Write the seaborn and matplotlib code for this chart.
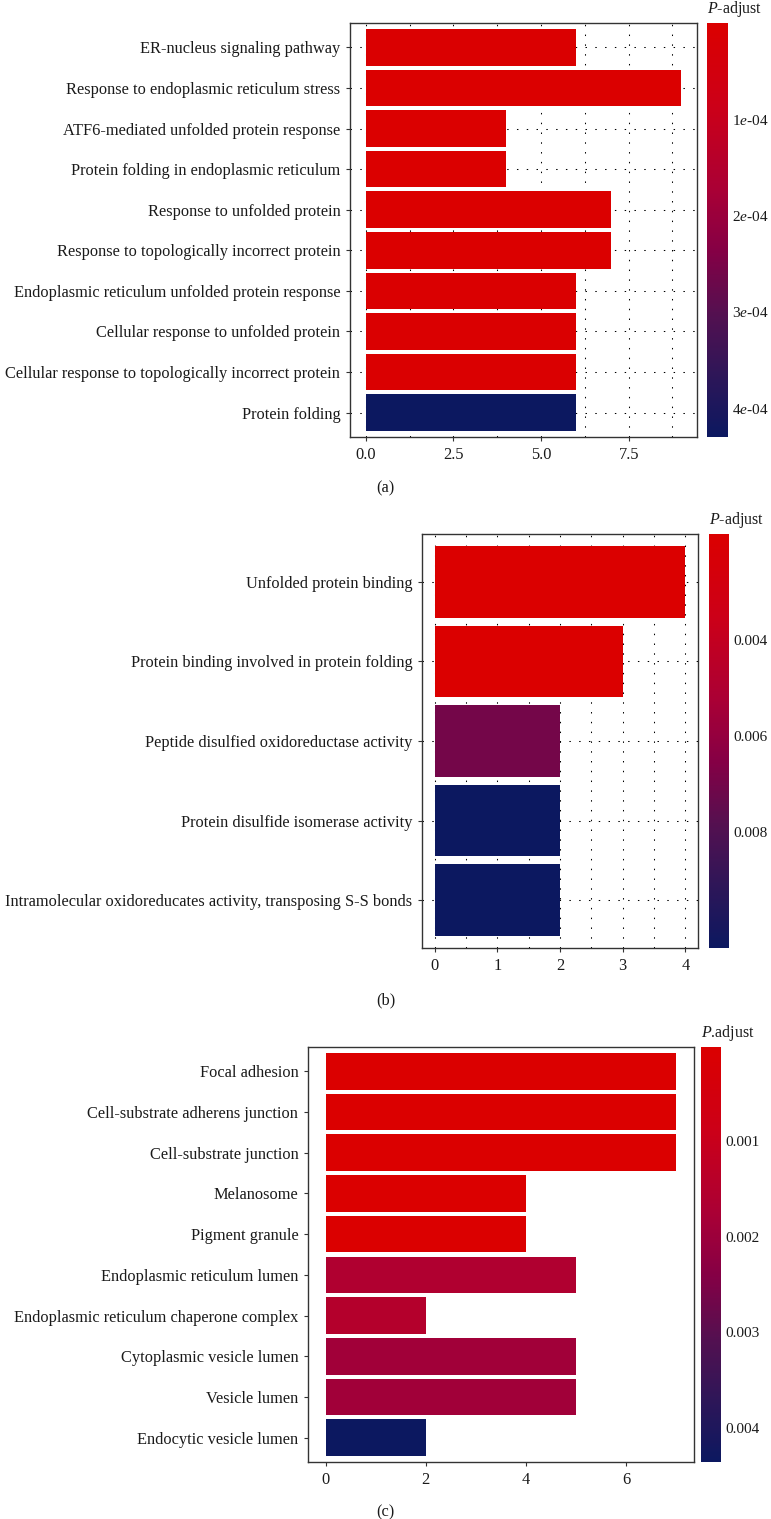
import numpy as np
import pandas as pd
import seaborn as sns
import matplotlib.pyplot as plt
from matplotlib.colors import LinearSegmentedColormap, Normalize
from matplotlib.cm import ScalarMappable
from matplotlib.ticker import FixedLocator

# --- data ---
terms_a = ["ER-nucleus signaling pathway",
           "Response to endoplasmic reticulum stress",
           "ATF6-mediated unfolded protein response",
           "Protein folding in endoplasmic reticulum",
           "Response to unfolded protein",
           "Response to topologically incorrect protein",
           "Endoplasmic reticulum unfolded protein response",
           "Cellular response to unfolded protein",
           "Cellular response to topologically incorrect protein",
           "Protein folding"]
count_a = [6, 9, 4, 4, 7, 7, 6, 6, 6, 6]
padj_a = [4.0e-6, 1.5e-8, 2.0e-6, 2.0e-6, 3.0e-6, 3.0e-6, 5.0e-6, 5.0e-6, 5.0e-6, 4.3e-4]

terms_b = ["Unfolded protein binding",
           "Protein binding involved in protein folding",
           "Peptide disulfied oxidoreductase activity",
           "Protein disulfide isomerase activity",
           "Intramolecular oxidoreducates activity, transposing S-S bonds"]
count_b = [4, 3, 2, 2, 2]
padj_b = [0.0018, 0.0018, 0.0070, 0.0104, 0.0104]

terms_c = ["Focal adhesion",
           "Cell-substrate adherens junction",
           "Cell-substrate junction",
           "Melanosome",
           "Pigment granule",
           "Endoplasmic reticulum lumen",
           "Endoplasmic reticulum chaperone complex",
           "Cytoplasmic vesicle lumen",
           "Vesicle lumen",
           "Endocytic vesicle lumen"]
count_c = [7, 7, 7, 4, 4, 5, 2, 5, 5, 2]
padj_c = [1.0e-5, 1.0e-5, 1.0e-5, 2.0e-5, 2.0e-5, 0.0016, 0.0015, 0.0019, 0.0019, 0.00436]

cbar_ticks_a = [1e-4, 2e-4, 3e-4, 4e-4]
cbar_labels_a = ["1$e$-04", "2$e$-04", "3$e$-04", "4$e$-04"]
cbar_ticks_b = [0.004, 0.006, 0.008]
cbar_labels_b = ["0.004", "0.006", "0.008"]
cbar_ticks_c = [0.001, 0.002, 0.003, 0.004]
cbar_labels_c = ["0.001", "0.002", "0.003", "0.004"]

# --- style ---
sns.set_style("white")
plt.rcParams["font.family"] = ["Liberation Serif", "DejaVu Serif"]
plt.rcParams["mathtext.fontset"] = "custom"
plt.rcParams["mathtext.it"] = "Liberation Serif:italic"
plt.rcParams["mathtext.rm"] = "Liberation Serif"

FS = 11.8
cmap = LinearSegmentedColormap.from_list("padj", [
    (0.0, "#DB0000"), (0.2, "#CC0018"), (0.4, "#AA0035"), (0.55, "#850045"),
    (0.7, "#551050"), (0.85, "#2E1658"), (1.0, "#0C1860")])

W, H = 771, 1519
fig = plt.figure(figsize=(W / 100, H / 100), dpi=100)


def rect(x0, x1, y0, y1):
    return [x0 / W, 1 - y1 / H, (x1 - x0) / W, (y1 - y0) / H]


def panel(terms, counts, padj, ax_box, cb_box, xlim, major, minor, grid,
          ticks, labels, cb_title, caption, cap_y):
    ax = fig.add_axes(rect(*ax_box))
    norm = Normalize(min(padj), max(padj))
    df = pd.DataFrame({"term": terms, "count": counts, "padj": padj})
    pal = {t: cmap(norm(p)) for t, p in zip(terms, padj)}
    sns.barplot(data=df, x="count", y="term", hue="term", palette=pal,
                dodge=False, legend=False, width=0.9, linewidth=0,
                saturation=1, ax=ax)
    ax.set_xlim(*xlim)
    ax.set_ylim(len(terms) - 0.4, -0.6)
    ax.xaxis.set_major_locator(FixedLocator(major))
    ax.set_xticklabels([f"{v:g}" if isinstance(v, int) else f"{v:.1f}" for v in major])
    if grid:
        ax.xaxis.set_minor_locator(FixedLocator(minor))
        ax.set_axisbelow(True)
        ax.grid(which="both", axis="x", color="black", linestyle=(0, (1.4, 8)), linewidth=0.75)
        ax.grid(which="major", axis="y", color="black", linestyle=(0, (1.4, 8)), linewidth=0.75)
    ax.tick_params(which="minor", length=0)
    ax.tick_params(which="major", length=3, width=0.8, color="#333333",
                   labelsize=FS, labelcolor="#1a1a1a", pad=4, left=True, bottom=True)
    ax.set_xlabel("")
    ax.set_ylabel("")
    for s in ax.spines.values():
        s.set_color("#333333")
        s.set_linewidth(1.0)

    cax = fig.add_axes(rect(*cb_box))
    cb = fig.colorbar(ScalarMappable(norm=norm, cmap=cmap), cax=cax)
    cb.outline.set_visible(False)
    cax.invert_yaxis()
    cb.set_ticks(ticks)
    cb.set_ticklabels(labels)
    cax.tick_params(direction="in", length=4, width=0.8, color="white",
                    left=True, right=True, labelsize=11, labelcolor="#1a1a1a", pad=3)
    fig.text(cb_box[0] / W, 1 - (cb_box[2] - 4) / H, cb_title, fontsize=11.5,
             ha="left", va="bottom", color="#1a1a1a")
    fig.text(0.5, 1 - cap_y / H, caption, fontsize=FS, ha="center", va="center",
             color="#1a1a1a")
    return ax


panel(terms_a, count_a, padj_a, (350, 697, 23, 437), (707, 728, 23, 437),
      (-0.45, 9.45), [0.0, 2.5, 5.0, 7.5], [1.25, 3.75, 6.25, 8.75], True,
      cbar_ticks_a, cbar_labels_a, "$P$-adjust", "(a)", 488)

panel(terms_b, count_b, padj_b, (422, 698, 534, 948), (709, 729, 534, 948),
      (-0.2, 4.2), [0, 1, 2, 3, 4], [0.5, 1.5, 2.5, 3.5], True,
      cbar_ticks_b, cbar_labels_b, "$P$-adjust", "(b)", 1000)

panel(terms_c, count_c, padj_c, (308, 694, 1047, 1462), (701, 721, 1047, 1462),
      (-0.35, 7.35), [0, 2, 4, 6], [], False,
      cbar_ticks_c, cbar_labels_c, "$P$.adjust", "(c)", 1512)

fig.savefig("out.png", dpi=100)
